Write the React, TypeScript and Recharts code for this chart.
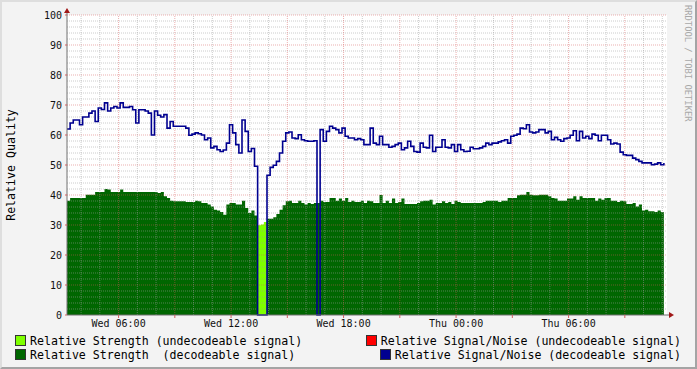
import React from 'react';
import {
  ComposedChart,
  Area,
  Line,
  XAxis,
  YAxis,
  CartesianGrid,
  ReferenceLine,
} from 'recharts';

// 10 minute samples starting Wed 03:15 (hours since Wed 00:00)
const START_HOUR = 3.25;
const STEP_HOURS = 1 / 6;

const strengthDecoded = [
  38.1, 39, 39, 39, 39, 39, 40.1, 40.1, 40.1, 41, 41, 41, 42, 41.8, 41, 41,
  41, 41.8, 41, 41, 41, 41, 41, 41, 41, 41, 41, 41, 41, 40.7, 41, 39.6,
  39, 38.1, 37.9, 37.9, 37.9, 37.9, 37.7, 37.7, 37.7, 38.1, 37.9, 37.3, 37.3, 36.8, 36.2, 35.1,
  34.8, 34.3, 33.4, 36.8, 37.3, 37.3, 36.8, 36.8, 38.1, 35.7, 34, 34.8, 33.2, 0, 0, 0,
  32.1, 32.1, 32.6, 33.7, 35.1, 36.6, 37.9, 38.1, 37.3, 37.3, 38.1, 37.3, 36.8, 37.3, 37, 37.3,
  37.3, 38.1, 37.7, 37.7, 39, 39, 38.1, 38.8, 38.1, 39, 37.7, 38.1, 37.7, 37.7, 38.1, 37.3,
  38.1, 37.9, 37.3, 37.3, 40, 37.3, 38.1, 37.3, 38.8, 37.3, 37.7, 38.8, 37, 37, 37, 37,
  37.3, 37.9, 38.1, 38.1, 38.4, 36.8, 37.3, 37.3, 37.9, 37.3, 37.7, 37, 38.1, 37.7, 37.3, 37.3,
  37.3, 37.3, 37.3, 37.3, 37.3, 37.7, 38.1, 38.1, 38.1, 38.1, 37.7, 38.1, 38.1, 39, 39, 39,
  39.9, 40.1, 40.1, 41, 40.1, 39.9, 39.9, 40.1, 40.1, 40.1, 39.6, 39, 38.8, 38.1, 38.1, 38.1,
  38.8, 38.8, 39.6, 38.4, 39.6, 39, 39, 39, 39, 38.1, 38.8, 38.4, 39, 39, 38.1, 38.1,
  37.7, 38.1, 37.9, 37, 37, 37.3, 36.2, 36.8, 34.8, 35.1, 34.6, 34.6, 34.3, 34.8, 34.3, 34.6,
];

// undecodeable period: sample index where it starts and its values
const undecodedStart = 61;
const strengthUndecoded = [29.9, 30.2, 31.0];

const snDecoded = [
  62, 64, 65, 65, 63.4, 66, 66, 67.3, 68, 64.5, 69, 68.5, 70.7, 68, 69, 69.5,
  69, 70.7, 69.2, 69.2, 69.5, 68.4, 64, 68.4, 68.4, 68, 67.3, 60, 68, 66.6, 66, 66.8,
  62.3, 64.5, 62.9, 62.9, 62.9, 62.9, 62.3, 59.9, 60.3, 60.7, 60.4, 60, 58.4, 59, 55.7, 56.2,
  55.1, 54.5, 55, 57.3, 63.4, 60.7, 56.8, 54, 65, 61.2, 54.5, 55.5, 49.6, 0, 0, 0,
  46.6, 49.2, 49.9, 51.2, 54, 57.9, 60.7, 61, 59, 58.8, 60.1, 58.4, 58.1, 57.9, 57.9, 58.1,
  0, 61.8, 57.9, 61.2, 62.9, 62.3, 61.8, 60.7, 62.3, 59.6, 59, 59, 58.4, 58.8, 58.4, 56.8,
  56.8, 62.3, 57.3, 56.8, 59.6, 56.8, 56.8, 55.9, 56.2, 56.8, 57.3, 55.1, 55.7, 57.9, 56.2, 54.5,
  54.3, 57.3, 55.9, 55.7, 59.9, 54.5, 55.9, 55.9, 58.4, 55.9, 55.7, 56.8, 54.5, 56.8, 55.1, 54.5,
  54.6, 55.9, 55.4, 55.4, 55.7, 56.2, 57.3, 56.8, 57.3, 57.3, 57.7, 58.1, 58.4, 57.3, 59.6, 59.9,
  60.3, 62.3, 62.1, 63.4, 61, 60.7, 61, 61.8, 61.8, 60.7, 61.2, 58.4, 59.2, 58.4, 57.9, 58.8,
  59, 59.9, 61.4, 58.1, 61.2, 59, 59.6, 58.8, 60.3, 59.9, 58.1, 59.9, 59.9, 58.4, 57, 57.3,
  57, 54.3, 53.4, 53.2, 53.2, 52.3, 51.8, 51.2, 50.7, 50.7, 50.7, 50.1, 50.3, 50.7, 50.1, 50.7,
];

const yTicks = [0, 10, 20, 30, 40, 50, 60, 70, 80, 90, 100];
const xTickHours = [6, 12, 18, 24, 30];
const xTickLabels = ['Wed 06:00', 'Wed 12:00', 'Wed 18:00', 'Thu 00:00', 'Thu 06:00'];

const legendLeft = [
  { label: 'Relative Strength (undecodeable signal)', color: '#7FFF00' },
  { label: 'Relative Strength  (decodeable signal)', color: '#006600' },
];
const legendRight = [
  { label: 'Relative Signal/Noise (undecodeable signal)', color: '#FF0000' },
  { label: 'Relative Signal/Noise (decodeable signal)', color: '#000090' },
];

const data = strengthDecoded.map((v, i) => {
  const u = i - undecodedStart;
  return {
    t: START_HOUR + i * STEP_HOURS,
    strength: v,
    undecoded: u >= 0 && u < strengthUndecoded.length ? strengthUndecoded[u] : 0,
    sn: snDecoded[i],
  };
});

const W = 697;
const H = 369;
const PLOT_LEFT = 67;
const PLOT_TOP = 15;
const PLOT_RIGHT = 667;
const PLOT_BOTTOM = 315;
const X_AXIS_H = 20;
const MONO = '"DejaVu Sans Mono", monospace';
const MARGIN = { top: PLOT_TOP, right: W - PLOT_RIGHT, left: 0, bottom: H - PLOT_BOTTOM - X_AXIS_H };

const domainX: [number, number] = [START_HOUR, START_HOUR + 32];
const majorX: number[] = [];
for (let h = 6; h < domainX[1]; h += 3) majorX.push(h);
const minorX: number[] = [];
for (let h = 4; h < domainX[1]; h += 1) if (h % 3 !== 0) minorX.push(h);
const majorY = yTicks.filter((v) => v > 0);
const minorY: number[] = [];
for (let v = 2; v < 100; v += 2) if (v % 10 !== 0) minorY.push(v);

const MINOR = 'rgba(158,158,158,0.52)';
const MAJOR = 'rgba(216,88,88,0.48)';

const formatX = (h: number) => {
  const idx = xTickHours.indexOf(h);
  return idx >= 0 ? xTickLabels[idx] : '';
};

const YLabel = (props: any) => {
  const vb = props.viewBox || { x: 0, y: PLOT_TOP, height: PLOT_BOTTOM - PLOT_TOP };
  const cx = 11;
  const cy = vb.y + vb.height / 2;
  return (
    <text
      x={cx}
      y={cy}
      transform={`rotate(-90 ${cx} ${cy})`}
      textAnchor="middle"
      dominantBaseline="central"
      fontFamily={MONO}
      fontSize={11.6}
      fill="#000"
    >
      Relative Quality
    </text>
  );
};

const Swatch = ({ color }: { color: string }) => (
  <span
    style={{
      display: 'inline-block',
      width: 9,
      height: 9,
      background: color,
      border: '1px solid #333',
      marginRight: 4,
      verticalAlign: -1,
    }}
  />
);

// axes shared by both layers; `visible` turns drawing on or off
const axes = (visible: boolean) => [
  <XAxis
    key="x"
    type="number"
    dataKey="t"
    domain={domainX}
    ticks={majorX}
    tickFormatter={formatX}
    allowDataOverflow
    height={X_AXIS_H}
    tickSize={3}
    tickMargin={2}
    axisLine={visible ? { stroke: '#707070' } : false}
    tickLine={visible ? { stroke: '#d06060' } : false}
    tick={visible ? { fontFamily: MONO, fontSize: 10, fill: '#111' } : false}
  />,
  <YAxis
    key="y"
    type="number"
    domain={[0, 100]}
    ticks={yTicks}
    width={PLOT_LEFT}
    tickSize={2}
    tickMargin={3}
    axisLine={visible ? { stroke: '#707070' } : false}
    tickLine={visible ? { stroke: '#d06060' } : false}
    tick={visible ? { fontFamily: MONO, fontSize: 10, fill: '#111' } : false}
    label={visible ? <YLabel /> : undefined}
  />,
];

export default function App() {
  return (
    <div
      style={{
        position: 'absolute',
        left: 0,
        top: 0,
        width: W,
        height: H,
        background: '#f3f3f3',
        boxSizing: 'border-box',
        borderRight: '2px solid #a4a4a4',
        borderBottom: '2px solid #a4a4a4',
        borderTop: '2px solid #dedede',
        borderLeft: '2px solid #dedede',
        overflow: 'hidden',
      }}
    >
      <div style={{ position: 'absolute', left: -2, top: -2 }}>
        {/* bottom layer: canvas and strength areas */}
        <ComposedChart width={W} height={H} data={data} margin={MARGIN}>
          <CartesianGrid fill="#ffffff" stroke="none" horizontal={false} vertical={false} />
          {axes(false)}
          <Area
            type="stepAfter"
            dataKey="strength"
            stroke="none"
            fill="#006600"
            fillOpacity={1}
            isAnimationActive={false}
          />
          <Area
            type="stepAfter"
            dataKey="undecoded"
            stroke="none"
            fill="#7FFF00"
            fillOpacity={1}
            isAnimationActive={false}
          />
        </ComposedChart>
        {/* top layer: grid, axes and signal/noise line */}
        <div style={{ position: 'absolute', left: 0, top: 0 }}>
          <ComposedChart width={W} height={H} data={data} margin={MARGIN}>
            {axes(true)}
            {minorX.map((h) => (
              <ReferenceLine key={`mx${h}`} x={h} stroke={MINOR} strokeDasharray="1 1" />
            ))}
            {minorY.map((v) => (
              <ReferenceLine key={`my${v}`} y={v} stroke={MINOR} strokeDasharray="1 1" />
            ))}
            {majorX.map((h) => (
              <ReferenceLine key={`Mx${h}`} x={h} stroke={MAJOR} strokeDasharray="1 1" />
            ))}
            {majorY.map((v) => (
              <ReferenceLine key={`My${v}`} y={v} stroke={MAJOR} strokeDasharray="1 1" />
            ))}
            <Line
              type="stepAfter"
              dataKey="sn"
              stroke="#000090"
              strokeWidth={1.6}
              dot={false}
              activeDot={false}
              isAnimationActive={false}
            />
          </ComposedChart>
        </div>
        <svg
          width={W}
          height={H}
          style={{ position: 'absolute', left: 0, top: 0, pointerEvents: 'none' }}
        >
          <line x1={PLOT_LEFT} y1={PLOT_TOP} x2={PLOT_LEFT} y2={PLOT_TOP - 4} stroke="#707070" />
          <line x1={PLOT_RIGHT} y1={PLOT_BOTTOM} x2={PLOT_RIGHT + 4} y2={PLOT_BOTTOM} stroke="#707070" />
          <polygon
            points={`${PLOT_LEFT - 3},${PLOT_TOP - 2} ${PLOT_LEFT + 3},${PLOT_TOP - 2} ${PLOT_LEFT},${PLOT_TOP - 7}`}
            fill="#a01818"
          />
          <polygon
            points={`${PLOT_RIGHT + 2},${PLOT_BOTTOM - 3} ${PLOT_RIGHT + 2},${PLOT_BOTTOM + 3} ${PLOT_RIGHT + 7},${PLOT_BOTTOM}`}
            fill="#a01818"
          />
          <text
            x={685}
            y={5}
            transform="rotate(90 685 5)"
            fontFamily={MONO}
            fontSize={8.8}
            fill="#a8a8a8"
          >
            RRDTOOL / TOBI OETIKER
          </text>
        </svg>
        <div
          style={{
            position: 'absolute',
            left: 15,
            top: 334,
            fontFamily: MONO,
            fontSize: 11.6,
            lineHeight: '14px',
            color: '#000',
            whiteSpace: 'pre',
          }}
        >
          {legendLeft.map((it) => (
            <div key={it.label}>
              <Swatch color={it.color} />
              {it.label}
            </div>
          ))}
        </div>
        <div
          style={{
            position: 'absolute',
            right: W - 681,
            top: 334,
            fontFamily: MONO,
            fontSize: 11.6,
            lineHeight: '14px',
            color: '#000',
            whiteSpace: 'pre',
            textAlign: 'right',
          }}
        >
          {legendRight.map((it) => (
            <div key={it.label}>
              <Swatch color={it.color} />
              {it.label}
            </div>
          ))}
        </div>
      </div>
    </div>
  );
}
